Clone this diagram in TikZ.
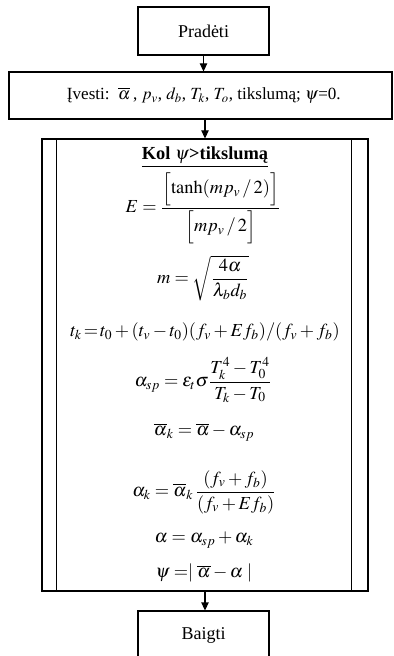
\documentclass[tikz,border=0pt]{standalone}
\usepackage{amsmath}
\usepackage{mathptmx}
\usepackage[no-math]{fontspec}
\setmainfont{Liberation Serif}
\usepackage{tikz}
\usetikzlibrary{arrows.meta}

\begin{document}
\begin{tikzpicture}[
        x=0.75pt, y=-0.75pt,
        terminal/.style={
            draw,
            line width=0.8pt,
            minimum width=98.25pt,
            minimum height=36pt,
            inner sep=0pt,
            font=\fontsize{13.5}{16}\selectfont
        },
        inputbox/.style={
            draw,
            line width=0.8pt,
            minimum width=287.25pt,
            minimum height=35.25pt,
            inner sep=0pt,
            font=\fontsize{12.8}{15}\selectfont
        },
        loopbox/.style={
            draw,
            line width=0.8pt,
            minimum width=244.5pt,
            minimum height=339pt,
            inner sep=0pt
        },
        formula/.style={
            inner sep=0pt,
            font=\fontsize{13.8}{16}\selectfont
        },
        flow/.style={
            -{Triangle[length=6pt,width=5.5pt]},
            line width=0.8pt
        }
    ]
        \useasboundingbox (0,0) rectangle (393,656);

        \node[terminal] (start) at (203.5,31) {Pradėti};
        \node[inputbox] (input) at (200.5,95.5)
            {\hspace*{5pt}Įvesti: \,$\overline{\alpha}$\,, $p_v$, $d_b$, $T_k$, $T_o$, tikslumą; $\psi$=0.};
        \node[loopbox] (loop) at (205,365) {};
        \node[terminal] (finish) at (203.5,635) {Baigti};

        % inner edges of the loop
        \draw[line width=0.8pt] ([xshift=11.25pt]loop.north west) -- ([xshift=11.25pt]loop.south west);
        \draw[line width=0.8pt] ([xshift=-12.75pt]loop.north east) -- ([xshift=-12.75pt]loop.south east);

        \node[formula] (cond) at (205,157)
            {\underline{\textbf{Kol $\psi$>tikslumą}}};
        \node[formula] (eqE) at (203,208)
            {$E=\dfrac{\Bigl[\tanh(mp_v\,/\,2)\Bigr]}{\Bigl[mp_v\,/\,2\Bigr]}$};
        \node[formula] (eqm) at (203,278)
            {$m=\sqrt{\dfrac{4\alpha}{\lambda_b d_b}}$};
        \node[formula] (eqt) at (205,332)
            {$t_k\!=\!t_0+(t_v-t_0)(f_v+Ef_b)/(f_v+f_b)$};
        \node[formula] (eqsp) at (203,380)
            {$\alpha_{sp}=\varepsilon_t\sigma\dfrac{T_k^4-T_0^4}{T_k-T_0}$};
        \node[formula] (eqbar) at (204,432)
            {$\overline{\alpha}_k=\overline{\alpha}-\alpha_{sp}$};
        \node[formula] (eqk) at (204,492)
            {$\alpha_k=\overline{\alpha}_k\,\dfrac{(f_v+f_b)}{(f_v+Ef_b)}$};
        \node[formula] (eqa) at (204,540)
            {$\alpha=\alpha_{sp}+\alpha_k$};
        \node[formula] (eqpsi) at (204,573)
            {$\psi=\mid\overline{\alpha}-\alpha\mid$};

        \draw[flow] (start.south) -- (start.south |- input.north);
        \draw[flow] (input.south -| loop.north) -- (loop.north);
        \draw[flow] (loop.south) -- (loop.south |- finish.north);
    \end{tikzpicture}
\end{document}
